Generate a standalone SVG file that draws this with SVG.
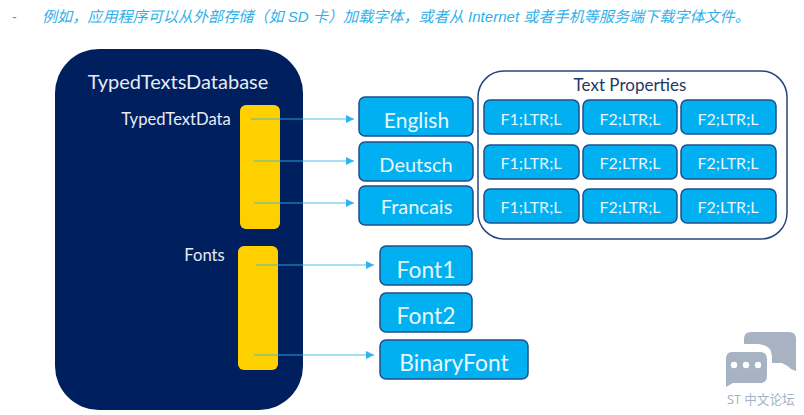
<svg xmlns="http://www.w3.org/2000/svg" width="804" height="415" viewBox="0 0 804 415">
<style>
text{font-family:"Lato","Noto Sans CJK SC",sans-serif}
.box{fill:#00b0f0;stroke:#1f4e8c;stroke-width:1.5}
.bar{fill:#ffd000}
.lbl{fill:#e8f6fd;text-anchor:middle}
.big{font-size:20px}
.font{font-size:22.8px}
.small{font-size:16px}
.c{stroke:#2fb4ee;stroke-width:1.2;stroke-opacity:.85;fill:none;marker-end:url(#a)}
</style>
<defs><marker id="a" markerUnits="userSpaceOnUse" markerWidth="9" markerHeight="9" refX="8" refY="4" orient="auto"><path d="M0 0L8 4L0 8Z" fill="#2fb4ee"/></marker></defs>
<text x="12" y="22" font-size="14" fill="#2aa9e8" style="font-family:'Liberation Sans',sans-serif">-</text>
<text x="42" y="22" font-size="15.1" font-style="italic" fill="#2fb0ea" style="font-family:'Liberation Sans','Noto Sans CJK SC',sans-serif">例如，应用程序可以从外部存储（如 SD 卡）加载字体，或者从 Internet 或者手机等服务端下载字体文件。</text>
<g id="database">
<rect x="55" y="49" width="248" height="361" rx="44" fill="#001f5f"/>
<text x="178" y="89" font-size="20" fill="#e6ebf5" text-anchor="middle">TypedTextsDatabase</text>
<text x="176" y="125" font-size="16.6" fill="#e6ebf5" text-anchor="middle">TypedTextData</text>
<text x="204.500" y="261" font-size="16.6" fill="#e6ebf5" text-anchor="middle">Fonts</text>
</g>
<g id="typedtextdata-bar"><rect class="bar" x="240" y="105" width="40" height="124" rx="6"/></g>
<g id="fonts-bar"><rect class="bar" x="238" y="246" width="40" height="124" rx="6"/></g>
<g id="text-properties">
<rect x="478" y="71" width="309" height="168" rx="26" fill="#fff" stroke="#27467f" stroke-width="1.5"/>
<text x="630" y="91" font-size="17" fill="#1f3864" text-anchor="middle">Text Properties</text>
</g>
<g id="english"><rect class="box" x="359" y="97" width="114" height="39" rx="6"/><text class="lbl" font-size="21" x="416.500" y="128">English</text></g>
<g id="deutsch"><rect class="box" x="359" y="142" width="114" height="39" rx="6"/><text class="lbl big" x="416" y="172">Deutsch</text></g>
<g id="francais"><rect class="box" x="359" y="186" width="114" height="39" rx="6"/><text class="lbl big" x="416.500" y="214">Francais</text></g>
<g id="p11"><rect class="box" x="484" y="100" width="95" height="34" rx="6"/><text class="lbl small" x="531" y="125">F1;LTR;L</text></g>
<g id="p12"><rect class="box" x="583" y="100" width="94" height="34" rx="6"/><text class="lbl small" x="630" y="125">F2;LTR;L</text></g>
<g id="p13"><rect class="box" x="681" y="100" width="95" height="34" rx="6"/><text class="lbl small" x="728" y="125">F2;LTR;L</text></g>
<g id="p21"><rect class="box" x="484" y="145" width="95" height="34" rx="6"/><text class="lbl small" x="531" y="169">F1;LTR;L</text></g>
<g id="p22"><rect class="box" x="583" y="145" width="94" height="34" rx="6"/><text class="lbl small" x="630" y="169">F2;LTR;L</text></g>
<g id="p23"><rect class="box" x="681" y="145" width="95" height="34" rx="6"/><text class="lbl small" x="728" y="169">F2;LTR;L</text></g>
<g id="p31"><rect class="box" x="484" y="189" width="95" height="34" rx="6"/><text class="lbl small" x="531" y="213">F1;LTR;L</text></g>
<g id="p32"><rect class="box" x="583" y="189" width="94" height="34" rx="6"/><text class="lbl small" x="630" y="213">F2;LTR;L</text></g>
<g id="p33"><rect class="box" x="681" y="189" width="95" height="34" rx="6"/><text class="lbl small" x="728" y="213">F2;LTR;L</text></g>
<g id="font1"><rect class="box" x="380" y="246" width="92" height="39" rx="6"/><text class="lbl font" x="426" y="278">Font1</text></g>
<g id="font2"><rect class="box" x="380" y="293" width="92" height="39" rx="6"/><text class="lbl font" x="426" y="324">Font2</text></g>
<g id="binaryfont"><rect class="box" x="380" y="340" width="148" height="39" rx="6"/><text class="lbl font" x="454" y="371">BinaryFont</text></g>
<g id="connectors">
<line class="c" x1="251" y1="119" x2="354" y2="119"/>
<line class="c" x1="254" y1="161" x2="354" y2="161"/>
<line class="c" x1="254" y1="203" x2="354" y2="203"/>
<line class="c" x1="256" y1="265" x2="374" y2="265"/>
<line class="c" x1="254" y1="355" x2="374" y2="355"/>
</g>
<g id="watermark">
<path d="M751 332h38q7 0 7 7v32l-5 -2q-4-4-9-6h-10v-6q0-12-14-13h-14v-5q0-7 7-7Z" fill="#a7b3c2"/>
<path d="M732 352h28q7 0 7 7v17q0 7-7 7h-27l-7 4v-28q0-7 6-7Z" fill="#a7b3c2"/>
<path d="M726 372v14l6-5Z" fill="#a7b3c2"/>
<circle cx="734" cy="365" r="3.2" fill="#fff"/><circle cx="746" cy="365" r="3.2" fill="#fff"/><circle cx="758" cy="365" r="3.2" fill="#fff"/>
<text x="727" y="404" font-size="12.6" fill="#a7b3c2" style="font-family:'Noto Sans','Noto Sans CJK SC',sans-serif">ST 中文论坛</text>
</g>
</svg>
